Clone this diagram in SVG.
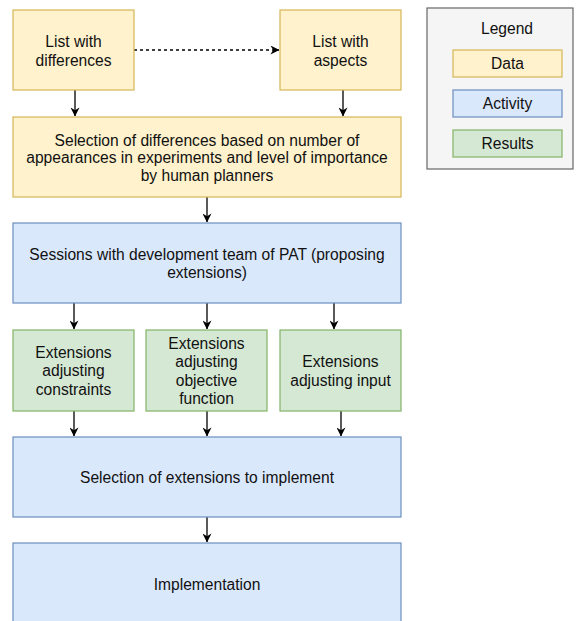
<svg xmlns="http://www.w3.org/2000/svg" width="576" height="621" viewBox="0 0 576 621">
  <style>
    .data { fill: #fff2cc; stroke: #d6b656; stroke-width: 1.2; }
    .act { fill: #dae8fc; stroke: #6c8ebf; stroke-width: 1.2; }
    .res { fill: #d5e8d4; stroke: #82b366; stroke-width: 1.2; }
    .leg { fill: #f5f5f5; stroke: #666666; stroke-width: 1.2; }
    text { font-family: "Liberation Sans", Arial, Helvetica, sans-serif; font-size: 15.6px; fill: #111111; text-anchor: middle; }
    .edge { stroke: #000000; stroke-width: 1.3; fill: none; }
    .dash { stroke-dasharray: 3 3; }
  </style>
  <defs>
    <marker id="arrow" viewBox="0 0 10 10" refX="9.5" refY="5" markerWidth="9" markerHeight="9" markerUnits="userSpaceOnUse" orient="auto">
      <path d="M0,0 L10,5 L0,10 L3,5 Z" fill="#000000"/>
    </marker>
  </defs>

  <!-- connectors -->
  <g id="edges">
    <path class="edge dash" d="M134,50 L279,50" marker-end="url(#arrow)"/>
    <path class="edge" d="M75,90 L75,116" marker-end="url(#arrow)"/>
    <path class="edge" d="M343,90 L343,116" marker-end="url(#arrow)"/>
    <path class="edge" d="M207,197 L207,222" marker-end="url(#arrow)"/>
    <path class="edge" d="M74,303 L74,329" marker-end="url(#arrow)"/>
    <path class="edge" d="M207,303 L207,329" marker-end="url(#arrow)"/>
    <path class="edge" d="M334,303 L334,329" marker-end="url(#arrow)"/>
    <path class="edge" d="M74,411 L74,436" marker-end="url(#arrow)"/>
    <path class="edge" d="M207,411 L207,436" marker-end="url(#arrow)"/>
    <path class="edge" d="M341,411 L341,436" marker-end="url(#arrow)"/>
    <path class="edge" d="M207,517 L207,542" marker-end="url(#arrow)"/>
  </g>

  <g id="list-differences">
    <rect class="data" x="13" y="10" width="121" height="80"/>
    <text x="73.5" y="47">List with</text>
    <text x="73.5" y="66">differences</text>
  </g>

  <g id="list-aspects">
    <rect class="data" x="280" y="10" width="121" height="80"/>
    <text x="340.5" y="47">List with</text>
    <text x="340.5" y="66">aspects</text>
  </g>

  <g id="selection-differences">
    <rect class="data" x="13" y="117" width="388" height="80"/>
    <text x="207" y="145.5">Selection of differences based on number of</text>
    <text x="207" y="163">appearances in experiments and level of importance</text>
    <text x="207" y="180.5">by human planners</text>
  </g>

  <g id="sessions">
    <rect class="act" x="13" y="223" width="388" height="80"/>
    <text x="207" y="259.5">Sessions with development team of PAT (proposing</text>
    <text x="207" y="277.5">extensions)</text>
  </g>

  <g id="ext-constraints">
    <rect class="res" x="13" y="330" width="121" height="81"/>
    <text x="73.5" y="357.5">Extensions</text>
    <text x="73.5" y="376">adjusting</text>
    <text x="73.5" y="394.5">constraints</text>
  </g>

  <g id="ext-objective">
    <rect class="res" x="146" y="330" width="121" height="81"/>
    <text x="206.5" y="348.5">Extensions</text>
    <text x="206.5" y="367">adjusting</text>
    <text x="206.5" y="385.5">objective</text>
    <text x="206.5" y="404">function</text>
  </g>

  <g id="ext-input">
    <rect class="res" x="280" y="330" width="121" height="81"/>
    <text x="340.5" y="366.5">Extensions</text>
    <text x="340.5" y="385.5">adjusting input</text>
  </g>

  <g id="selection-extensions">
    <rect class="act" x="13" y="437" width="388" height="80"/>
    <text x="207" y="482.5">Selection of extensions to implement</text>
  </g>

  <g id="implementation">
    <rect class="act" x="13" y="543" width="388" height="82"/>
    <text x="207" y="589.5">Implementation</text>
  </g>

  <g id="legend">
    <rect class="leg" x="427" y="8" width="146" height="161"/>
    <text x="507" y="33.5">Legend</text>
    <rect class="data" x="453" y="50" width="109" height="27"/>
    <text x="507.5" y="69">Data</text>
    <rect class="act" x="453" y="90" width="109" height="27"/>
    <text x="507.5" y="109">Activity</text>
    <rect class="res" x="453" y="130" width="109" height="27"/>
    <text x="507.5" y="149">Results</text>
  </g>
</svg>
